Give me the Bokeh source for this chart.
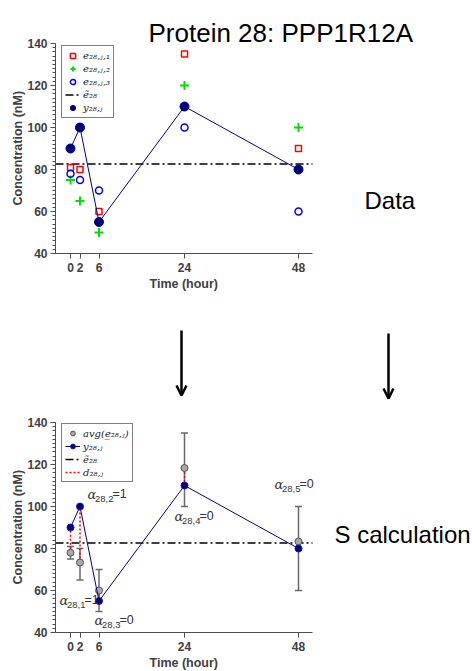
import numpy as np
from bokeh.plotting import figure
from bokeh.models import (Range1d, FixedTicker, Legend, LegendItem, Label, Title,
                          Arrow, OpenHead, Whisker, ColumnDataSource, TeeHead)
from bokeh.layouts import column
from bokeh.embed import file_html
from bokeh.resources import INLINE

# ---------------- data ----------------
time_h = [0, 2, 6, 24, 48]
e_rep1 = [81, 80, 60, 135, 90]
e_rep2 = [75, 65, 50, 120, 100]
e_rep3 = [78, 75, 70, 100, 60]
y_fit = [90, 100, 55, 110, 80]
alpha_vals = [1, 1, 0, 0, 0]
alpha_idx = [1, 2, 3, 4, 5]
y_ticks = [40, 60, 80, 100, 120, 140]

title_text = "Protein 28: PPP1R12A"
top_note = "Data"
bottom_note = "S calculation"
x_label = "Time (hour)"
y_label = "Concentration (nM)"

reps = np.array([e_rep1, e_rep2, e_rep3], dtype=float)
e_avg = reps.mean(axis=0)
e_lo = reps.min(axis=0)
e_hi = reps.max(axis=0)
e_mean = reps.mean()

# ---------------- geometry (page pixels) ----------------
W = 472
LEFT = 55             # frame left edge (y axis)
X0_PX = 70            # page x of t = 0
PX_PER_X = 4.75       # pixels per hour
PX_PER_Y = 2.1        # pixels per nM
TOP_FRAME_PX = 43     # page y of 140 nM, top panel
BOT_FRAME_PX = 422    # page y of 140 nM, bottom panel
P1_H = 322
P2_H = 348
YL, YH = 40, 140
AXIS_END_PX = 312

XL = (LEFT - X0_PX) / PX_PER_X          # left edge of frames
XB = (AXIS_END_PX - X0_PX) / PX_PER_X   # right end of the drawn axes
XR = (W - X0_PX) / PX_PER_X             # right edge of frames
Y1_TOP = YH + TOP_FRAME_PX / PX_PER_Y   # top panel frame reaches the page top
Y2_TOP = YH + (BOT_FRAME_PX - P1_H) / PX_PER_Y
P1_BOTTOM = 253       # page y of the top panel x axis
P2_BOTTOM = 632       # page y of the bottom panel x axis

# approximate rendered lengths of the axis titles (12.5px bold)
X_LABEL_LEN = 69
Y_LABEL_LEN = 115


def px_x(px):
    return (px - X0_PX) / PX_PER_X


def py_top(py):
    return YH - (py - TOP_FRAME_PX) / PX_PER_Y


def py_bot(py):
    return YH - (py - BOT_FRAME_PX) / PX_PER_Y


AX_COL = "#4d4d4d"
TXT_COL = "#404040"


def style(p, axis_top_px, axis_bottom_px):
    p.outline_line_color = None
    p.xgrid.visible = False
    p.ygrid.visible = False
    p.background_fill_color = "white"
    p.border_fill_color = "white"
    for ax in (p.xaxis[0], p.yaxis[0]):
        ax.axis_line_color = AX_COL
        ax.major_tick_line_color = AX_COL
        ax.minor_tick_line_color = AX_COL
        ax.major_tick_out = 5
        ax.major_tick_in = 0
        ax.minor_tick_out = 3
        ax.minor_tick_in = 0
        ax.major_label_text_font = "Liberation Sans"
        ax.major_label_text_font_style = "bold"
        ax.major_label_text_font_size = "12px"
        ax.major_label_text_color = TXT_COL
    p.xaxis.ticker = FixedTicker(ticks=time_h, minor_ticks=[])
    p.yaxis.ticker = FixedTicker(ticks=y_ticks, minor_ticks=list(range(40, 141, 2)))
    p.xaxis.bounds = (XL, XB)
    p.yaxis.bounds = (YL, YH)
    p.yaxis.major_label_standoff = 3
    p.xaxis.major_label_standoff = 4
    # axis titles centred on the drawn axes (not on the extended frames)
    x_centre = (LEFT + AXIS_END_PX) / 2
    y_centre = (axis_top_px + axis_bottom_px) / 2
    p.add_layout(Title(text=x_label, align="left",
                       offset=round(x_centre - X_LABEL_LEN / 2 - LEFT),
                       standoff=0, text_font="Liberation Sans", text_font_style="bold",
                       text_font_size="12.5px", text_color=TXT_COL), "below")
    p.add_layout(Title(text=y_label, align="left",
                       offset=round(axis_bottom_px - (y_centre + Y_LABEL_LEN / 2)),
                       standoff=0, text_font="Liberation Sans", text_font_style="bold",
                       text_font_size="12.5px", text_color=TXT_COL), "left")


def style_legend(lg):
    lg.margin = 0
    lg.padding = 3
    lg.spacing = 0
    lg.glyph_width = 15
    lg.glyph_height = 13
    lg.label_height = 13
    lg.label_standoff = 3
    lg.label_text_font = "DejaVu Serif"
    lg.label_text_font_style = "italic"
    lg.label_text_font_size = "10px"
    lg.label_text_color = "#222222"
    lg.border_line_color = "black"
    lg.border_line_width = 1
    lg.background_fill_alpha = 1


def note(p, x, y, text, size):
    p.add_layout(Label(x=x, y=y, text=text, text_font="Liberation Sans",
                       text_font_size=size, text_color="black",
                       text_baseline="alphabetic", text_align="left"))


# ---------------- top figure ----------------
p1 = figure(width=W, height=P1_H, x_range=Range1d(XL, XR), y_range=Range1d(YL, Y1_TOP),
            output_backend="svg", toolbar_location=None, title=None,
            min_border_left=LEFT, min_border_right=0, min_border_top=0,
            min_border_bottom=P1_H - P1_BOTTOM)
style(p1, TOP_FRAME_PX, P1_BOTTOM)

r_mean1 = p1.line([XL, XB], [e_mean, e_mean], line_color="black", line_width=1.5, line_dash="8 3 2 3")
r_e1 = p1.scatter(time_h, e_rep1, marker="square", size=6, fill_color=None,
                  line_color="#ff0000", line_width=1.5)
r_e2 = p1.scatter(time_h, e_rep2, marker="cross", size=9, line_color="#00e000", line_width=2)
r_e3 = p1.scatter(time_h, e_rep3, marker="circle", size=7, fill_color=None,
                  line_color="#0000ff", line_width=1.5)
r_yl1 = p1.line(time_h, y_fit, line_color="#000080", line_width=1)
r_y1 = p1.scatter(time_h, y_fit, marker="circle", size=9, fill_color="#000080", line_color="#000080")

lg1 = Legend(items=[
    LegendItem(label="e₂₈,ⱼ,₁", renderers=[r_e1]),
    LegendItem(label="e₂₈,ⱼ,₂", renderers=[r_e2]),
    LegendItem(label="e₂₈,ⱼ,₃", renderers=[r_e3]),
    LegendItem(label="ẽ₂₈", renderers=[r_mean1]),
    LegendItem(label="y₂₈,ⱼ", renderers=[r_y1]),
])
style_legend(lg1)
# (x, y) = left edge and bottom edge of the box, measured from the frame's bottom-left
lg1.location = (61 - LEFT, P1_BOTTOM - 118)
p1.add_layout(lg1)

note(p1, px_x(148), py_top(32), title_text, "26px")
note(p1, px_x(364), py_top(200), top_note, "24px")

# ---------------- bottom figure ----------------
p2 = figure(width=W, height=P2_H, x_range=Range1d(XL, XR), y_range=Range1d(YL, Y2_TOP),
            output_backend="svg", toolbar_location=None, title=None,
            min_border_left=LEFT, min_border_right=0, min_border_top=0,
            min_border_bottom=P1_H + P2_H - P2_BOTTOM)
style(p2, BOT_FRAME_PX, P2_BOTTOM)

src = ColumnDataSource(dict(t=time_h, lo=e_lo, hi=e_hi))
wk = Whisker(source=src, base="t", lower="lo", upper="hi", line_color="#6a6a6a", line_width=1.5,
             upper_head=TeeHead(size=7, line_color="#6a6a6a", line_width=1.5),
             lower_head=TeeHead(size=7, line_color="#6a6a6a", line_width=1.5))
p2.add_layout(wk)

r_mean2 = p2.line([XL, XB], [e_mean, e_mean], line_color="black", line_width=1.5, line_dash="8 3 2 3")
r_d = p2.segment(x0=time_h, y0=e_avg, x1=time_h, y1=y_fit, line_color="#ff0000",
                 line_width=1.5, line_dash="2 2")
r_avg = p2.scatter(time_h, e_avg, marker="circle", size=7, fill_color="#a8a8a8",
                   line_color="#555555", line_width=1)
r_yl2 = p2.line(time_h, y_fit, line_color="#000080", line_width=1)
r_y2 = p2.scatter(time_h, y_fit, marker="circle", size=7, fill_color="#000080", line_color="#1a1aa0")

lg2 = Legend(items=[
    LegendItem(label="avg(e̲₂₈,ⱼ)", renderers=[r_avg]),
    LegendItem(label="y₂₈,ⱼ", renderers=[r_yl2, r_y2]),
    LegendItem(label="ẽ₂₈", renderers=[r_mean2]),
    LegendItem(label="d₂₈,ⱼ", renderers=[r_d]),
])
style_legend(lg2)
lg2.spacing = 1
lg2.glyph_height = 12
lg2.label_height = 12
lg2.location = (61 - LEFT, P2_BOTTOM - 482)
p2.add_layout(lg2)

# alpha annotations (page-pixel anchors: left edge, vertical centre of alpha)
alpha_px = [(59, 600), (87, 494), (94, 620), (174, 516), (274, 484)]
for (ax_px, ay_px), k, a in zip(alpha_px, alpha_idx, alpha_vals):
    xx, yy = px_x(ax_px), py_bot(ay_px)
    p2.add_layout(Label(x=xx, y=yy, text="α", text_font="DejaVu Serif", text_font_style="italic",
                        text_font_size="13px", text_color="#333333", text_baseline="middle",
                        text_align="left"))
    p2.add_layout(Label(x=xx, y=yy, x_offset=7.5, y_offset=-4, text=f"28,{k}",
                        text_font="Liberation Sans", text_font_size="9.5px", text_color="#333333",
                        text_baseline="middle", text_align="left"))
    p2.add_layout(Label(x=xx, y=yy, x_offset=25, y_offset=1, text=f"={a}",
                        text_font="Liberation Sans", text_font_size="12.5px", text_color="#333333",
                        text_baseline="middle", text_align="left"))

note(p2, px_x(334), py_bot(534), bottom_note, "24px")

for ax_px, y0_px, y1_px in [(181, 330, 395), (388, 333, 398)]:
    p2.add_layout(Arrow(x_start=px_x(ax_px), y_start=py_bot(y0_px),
                        x_end=px_x(ax_px), y_end=py_bot(y1_px),
                        line_width=2.5, line_color="black",
                        end=OpenHead(size=10, line_width=2.5, line_color="black")))

layout = column(p1, p2)
open("out.html", "w").write(file_html(layout, INLINE))
